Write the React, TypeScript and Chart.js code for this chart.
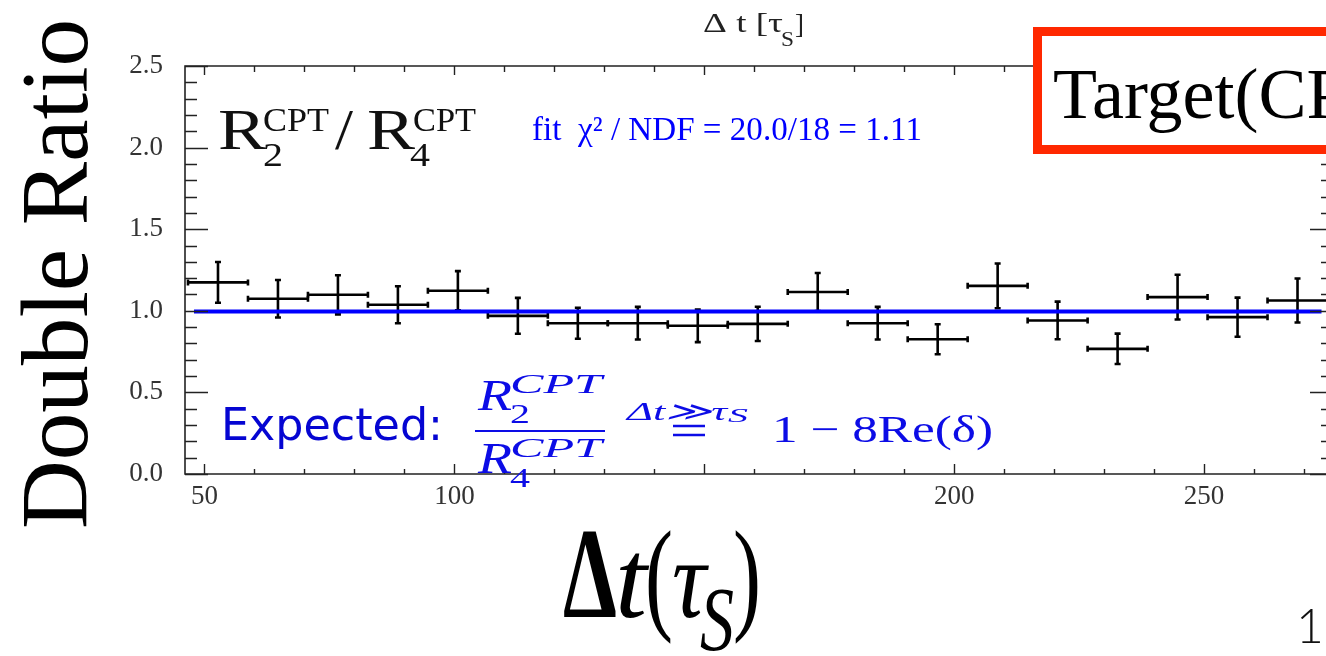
import React, { useEffect, useRef } from "react";
import { Chart, registerables } from "chart.js";

Chart.register(...registerables);

// ---------------- data ----------------
const binCenters = [52.7, 64.7, 76.7, 88.7, 100.7, 112.7, 124.7, 136.7, 148.7, 160.7, 172.7, 184.7, 196.7, 208.7, 220.7, 232.7, 244.7, 256.7, 268.7];
const ratioValues = [1.174, 1.074, 1.098, 1.037, 1.123, 0.969, 0.924, 0.924, 0.908, 0.92, 1.115, 0.924, 0.826, 1.153, 0.941, 0.767, 1.084, 0.961, 1.063];
const ratioErrors = [0.125, 0.115, 0.12, 0.113, 0.12, 0.11, 0.095, 0.1, 0.1, 0.105, 0.117, 0.1, 0.092, 0.137, 0.115, 0.093, 0.137, 0.12, 0.135];
const binHalfWidth = 6;
const fitValue = 0.995;
const fitRange = [47.9, 273.5];
const xRange = [46.1, 275.8];
const yRange = [0, 2.5];
const xTickValues = [50, 100, 200, 250];
const yTickStep = 0.5;

const SERIF = '"Liberation Serif", "Times New Roman", serif';
const SANS = '"DejaVu Sans", sans-serif';
const CANVAS_W = 1340;
const CANVAS_H = 656;

function drawText(ctx: CanvasRenderingContext2D, s: string, x: number, y: number, font: string, color: string, width?: number) {
  ctx.save();
  ctx.font = font;
  ctx.fillStyle = color;
  ctx.textAlign = "left";
  ctx.textBaseline = "alphabetic";
  ctx.translate(x, y);
  if (width) {
    const m = ctx.measureText(s).width;
    if (m > 0) ctx.scale(width / m, 1);
  }
  ctx.fillText(s, 0, 0);
  ctx.restore();
}

const rootPlugin = {
  id: "rootStyle",
  beforeDraw(chart: any) {
    const ctx = chart.ctx;
    ctx.save();
    ctx.fillStyle = "#ffffff";
    ctx.fillRect(0, 0, chart.width, chart.height);
    ctx.restore();
  },
  beforeDatasetsDraw(chart: any) {
    const ctx = chart.ctx;
    const xs = chart.scales.x;
    const ys = chart.scales.y;
    ctx.save();
    ctx.strokeStyle = "#000000";
    ctx.lineWidth = 2.6;
    ctx.lineCap = "butt";
    const cap = 3;
    binCenters.forEach((c, i) => {
      const v = ratioValues[i];
      const e = ratioErrors[i];
      const xl = xs.getPixelForValue(c - binHalfWidth);
      const xr = xs.getPixelForValue(c + binHalfWidth);
      const xc = xs.getPixelForValue(c);
      const yc = ys.getPixelForValue(v);
      const yt = ys.getPixelForValue(v + e);
      const yb = ys.getPixelForValue(v - e);
      ctx.beginPath();
      ctx.moveTo(xl, yc);
      ctx.lineTo(xr, yc);
      ctx.moveTo(xc, yt);
      ctx.lineTo(xc, yb);
      ctx.moveTo(xl, yc - cap);
      ctx.lineTo(xl, yc + cap);
      ctx.moveTo(xr, yc - cap);
      ctx.lineTo(xr, yc + cap);
      ctx.moveTo(xc - cap, yt);
      ctx.lineTo(xc + cap, yt);
      ctx.moveTo(xc - cap, yb);
      ctx.lineTo(xc + cap, yb);
      ctx.stroke();
    });
    ctx.restore();
  },
  afterDatasetsDraw(chart: any) {
    const ctx = chart.ctx;
    const xs = chart.scales.x;
    const ys = chart.scales.y;
    const { left, right, top, bottom } = chart.chartArea;
    ctx.save();
    ctx.strokeStyle = "#222222";
    ctx.lineWidth = 1.6;
    ctx.beginPath();
    ctx.rect(left, top, right - left, bottom - top);
    ctx.stroke();
    ctx.lineWidth = 1.4;
    ctx.beginPath();
    for (let i = 0; i <= 25; i++) {
      const v = i / 10;
      const y = Math.round(ys.getPixelForValue(v)) + 0.5;
      const len = i % 5 === 0 ? 23 : 12;
      ctx.moveTo(left, y);
      ctx.lineTo(left + len, y);
      ctx.moveTo(right, y);
      ctx.lineTo(right - len, y);
    }
    for (let v = 50; v <= 270; v += 10) {
      const x = Math.round(xs.getPixelForValue(v)) + 0.5;
      const major = v % 50 === 0;
      ctx.moveTo(x, bottom);
      ctx.lineTo(x, bottom - (major ? 10 : 5));
      ctx.moveTo(x, top);
      ctx.lineTo(x, top + (major ? 9 : 6));
    }
    ctx.stroke();
    ctx.restore();
  },
  afterDraw(chart: any) {
    const ctx = chart.ctx;
    // y-axis big title
    ctx.save();
    ctx.translate(87, 274);
    ctx.rotate(-Math.PI / 2);
    ctx.font = `96px ${SERIF}`;
    const w = ctx.measureText("Double Ratio").width;
    ctx.scale(510 / w, 1);
    ctx.fillStyle = "#000";
    ctx.fillText("Double Ratio", -w / 2, 0);
    ctx.restore();

    // x-axis big title Δt(τ_S)
    drawText(ctx, "Δ", 563, 617, `bold 130px ${SERIF}`, "#000", 54);
    drawText(ctx, "t", 615, 617, `italic 112px ${SERIF}`, "#000", 32);
    drawText(ctx, "(", 645, 617, `125px ${SERIF}`, "#000", 28);
    drawText(ctx, "τ", 672, 617, `italic 112px ${SERIF}`, "#000", 34);
    drawText(ctx, "S", 700, 650, `italic 90px ${SERIF}`, "#000", 34);
    drawText(ctx, ")", 733, 617, `125px ${SERIF}`, "#000", 28);

    // page number
    drawText(ctx, "1", 1296, 643, `300 48px Lato, ${SANS}`, "#111");

    // small top title
    drawText(ctx, "Δ t [τ", 703, 32, `27px ${SERIF}`, "#222", 80);
    drawText(ctx, "S", 781, 46, `20px ${SERIF}`, "#222", 13);
    drawText(ctx, "]", 795, 33, `27px ${SERIF}`, "#222", 9);

    // fit text
    drawText(ctx, "fit  χ² / NDF = 20.0/18 = 1.11", 532, 140, `33px ${SERIF}`, "#0000ff", 390);

    // R2/R4 label
    drawText(ctx, "R", 218, 149, `58px ${SERIF}`, "#111", 48);
    drawText(ctx, "CPT", 263, 131, `34px ${SERIF}`, "#111", 66);
    drawText(ctx, "2", 263, 166, `34px ${SERIF}`, "#111", 20);
    drawText(ctx, "/", 335, 149, `58px ${SERIF}`, "#111", 18);
    drawText(ctx, "R", 367, 149, `58px ${SERIF}`, "#111", 48);
    drawText(ctx, "CPT", 413, 131, `34px ${SERIF}`, "#111", 63);
    drawText(ctx, "4", 410, 166, `34px ${SERIF}`, "#111", 20);

    // Expected formula
    const blue = "#0c0ce6";
    drawText(ctx, "Expected:", 221, 440, `44px ${SANS}`, "#0505d2", 222);
    drawText(ctx, "R", 478, 410, `italic 45px ${SERIF}`, blue, 34);
    drawText(ctx, "2", 510, 423, `28px ${SERIF}`, blue, 20);
    drawText(ctx, "CPT", 510, 393, `italic 28px ${SERIF}`, blue, 92);
    ctx.save();
    ctx.strokeStyle = blue;
    ctx.lineWidth = 2;
    ctx.beginPath();
    ctx.moveTo(475, 431);
    ctx.lineTo(605, 431);
    ctx.stroke();
    ctx.restore();
    drawText(ctx, "R", 478, 473, `italic 45px ${SERIF}`, blue, 34);
    drawText(ctx, "4", 510, 487, `28px ${SERIF}`, blue, 20);
    drawText(ctx, "CPT", 510, 457, `italic 28px ${SERIF}`, blue, 92);
    drawText(ctx, "Δt≫τ", 627, 420, `italic 26px ${SERIF}`, blue, 100);
    drawText(ctx, "S", 728, 422, `italic 19px ${SERIF}`, blue, 20);
    ctx.save();
    ctx.strokeStyle = blue;
    ctx.lineWidth = 2.4;
    ctx.beginPath();
    ctx.moveTo(673, 426);
    ctx.lineTo(705, 426);
    ctx.moveTo(673, 435);
    ctx.lineTo(705, 435);
    ctx.stroke();
    ctx.restore();
    drawText(ctx, "1 − 8Re(δ)", 772, 442, `38px ${SERIF}`, blue, 221);

    // red box
    ctx.save();
    ctx.fillStyle = "#ffffff";
    ctx.fillRect(1033, 27, 320, 127);
    ctx.strokeStyle = "#ff2800";
    ctx.lineWidth = 9;
    ctx.strokeRect(1037.5, 31.5, 320, 118);
    ctx.restore();
    drawText(ctx, "Target(CPT)", 1053, 118, `72px ${SERIF}`, "#000");
  },
};

export default function App() {
  const canvasRef = useRef<HTMLCanvasElement | null>(null);

  useEffect(() => {
    const canvas = canvasRef.current;
    if (!canvas) return;
    const chart = new Chart(canvas, {
      type: "scatter",
      data: {
        datasets: [
          {
            label: "R2/R4 double ratio",
            data: binCenters.map((x, i) => ({ x, y: ratioValues[i] })),
            pointRadius: 0,
            showLine: false,
          },
          {
            label: "fit",
            type: "line",
            data: [
              { x: fitRange[0], y: fitValue },
              { x: fitRange[1], y: fitValue },
            ],
            borderColor: "#0000ff",
            borderWidth: 4,
            pointRadius: 0,
            fill: false,
          },
        ],
      } as any,
      options: {
        animation: false,
        responsive: false,
        devicePixelRatio: 1,
        layout: { padding: { top: 66, right: 7, left: 0, bottom: 0 } },
        plugins: { legend: { display: false }, tooltip: { enabled: false } },
        scales: {
          x: {
            type: "linear",
            min: xRange[0],
            max: xRange[1],
            grid: { display: false, drawTicks: false },
            border: { display: false },
            afterBuildTicks: (s: any) => {
              s.ticks = xTickValues.map((v) => ({ value: v }));
            },
            afterFit: (s: any) => {
              s.height = CANVAS_H - 474;
            },
            ticks: {
              padding: 7,
              color: "#333",
              font: { family: SERIF, size: 27 },
              maxRotation: 0,
              autoSkip: false,
            },
          },
          y: {
            type: "linear",
            min: yRange[0],
            max: yRange[1],
            grid: { display: false, drawTicks: false },
            border: { display: false },
            afterFit: (s: any) => {
              s.width = 185;
            },
            ticks: {
              stepSize: yTickStep,
              padding: 22,
              color: "#333",
              font: { family: SERIF, size: 27 },
              callback: (v: any) => Number(v).toFixed(1),
            },
          },
        },
      } as any,
      plugins: [rootPlugin],
    });
    return () => chart.destroy();
  }, []);

  return (
    <div style={{ position: "fixed", left: 0, top: 0, width: 1326, height: 656, overflow: "hidden", background: "#fff" }}>
      <canvas ref={canvasRef} width={CANVAS_W} height={CANVAS_H} style={{ width: CANVAS_W, height: CANVAS_H, display: "block" }} />
    </div>
  );
}
